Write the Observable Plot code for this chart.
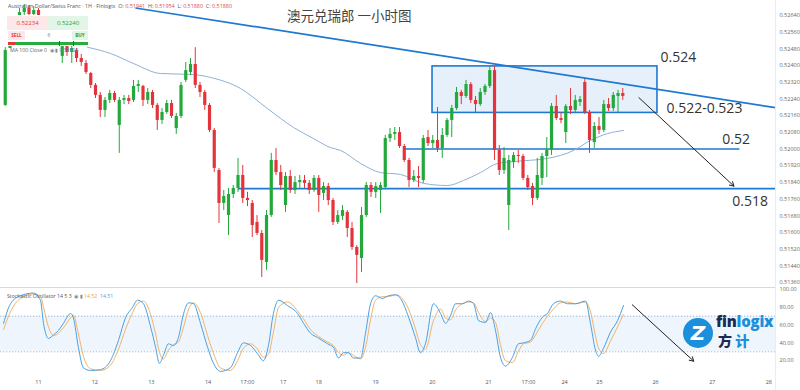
<!DOCTYPE html>
<html><head><meta charset="utf-8">
<script src="https://cdn.jsdelivr.net/npm/d3@7"></script>
<script src="https://cdn.jsdelivr.net/npm/@observablehq/plot@0.6"></script>
<style>
html,body{margin:0;padding:0;background:#fff;}
#wrap{position:relative;width:800px;height:390px;overflow:hidden;font-family:"Open Sans","Noto Sans",sans-serif;}
#wrap svg{display:block;overflow:visible;}
.ov{position:absolute;white-space:nowrap;line-height:1;}
</style></head>
<body><div id="wrap"></div>
<script>
// ---------- price bars (2-hour bars, hours from day 11 00:00) ----------
const barStartHour = -14, barStepHours = 2;
const opens = [.52209,.52482,.52568,.52616,.52654,.52674,.52645,.52664,.52626,.52597,.52616,.52549,.52444,.52491,.52463,.52472,.52434,.52410,.52362,.52305,
.52257,.52185,.52233,.52266,.52113,.52233,.52242,.52233,.52300,.52300,.52233,.52271,.52209,.52137,.52175,.52218,.52098,.52156,.52329,.52367,
.52405,.52305,.52271,.52209,.52089,.51897,.51739,.51681,.51782,.51811,.51873,.51763,.51739,.51648,.51595,.51456,.51681,.51945,.51887,.51729,
.51868,.51801,.51839,.51849,.51835,.51801,.51859,.51787,.51820,.51753,.51648,.51677,.51696,.51619,.51528,.51475,.51681,.51825,.51792,.51801,
.51815,.52050,.52070,.52079,.52012,.51945,.51849,.51868,.51849,.52055,.52026,.52041,.52002,.52065,.52137,.52194,.52271,.52252,.52309,.52233,
.52213,.52271,.52300,.52376,.51993,.51897,.51729,.51935,.51969,.51964,.51859,.51820,.51763,.51859,.51964,.51993,.52204,.52146,.52079,.52204,
.52185,.52223,.52319,.52175,.52031,.52108,.52089,.52213,.52194,.52252,.52266];
const highs = [.52486,.52578,.52640,.52674,.52693,.52688,.52683,.52674,.52640,.52635,.52626,.52568,.52511,.52501,.52520,.52482,.52453,.52424,.52367,.52314,
.52271,.52247,.52281,.52276,.52247,.52257,.52257,.52329,.52329,.52305,.52290,.52281,.52218,.52194,.52233,.52233,.52170,.52319,.52415,.52434,
.52486,.52319,.52281,.52218,.52098,.51907,.51801,.51811,.51825,.51955,.51921,.51792,.51753,.51681,.51609,.51705,.51979,.52002,.51921,.51887,
.51897,.51868,.51873,.51873,.51849,.51873,.51873,.51839,.51835,.51763,.51705,.51729,.51705,.51648,.51537,.51720,.51839,.51839,.51839,.51839,
.52065,.52098,.52103,.52103,.52022,.51955,.51897,.51916,.52065,.52089,.52065,.52199,.52098,.52146,.52209,.52295,.52281,.52329,.52319,.52252,
.52290,.52309,.52400,.52396,.52017,.52007,.51969,.51983,.51993,.51974,.51873,.51835,.51955,.51979,.52055,.52218,.52257,.52175,.52213,.52290,
.52257,.52252,.52338,.52185,.52127,.52151,.52233,.52242,.52271,.52281,.52290];
const lows = [.52204,.52482,.52559,.52597,.52635,.52626,.52616,.52607,.52578,.52568,.52549,.52491,.52410,.52444,.52410,.52415,.52396,.52357,.52290,.52242,
.52151,.52151,.52218,.52223,.51979,.52213,.52213,.52223,.52271,.52204,.52213,.52194,.52089,.52118,.52166,.52146,.52070,.52146,.52319,.52352,
.52290,.52247,.52185,.52079,.51887,.51643,.51705,.51585,.51763,.51792,.51739,.51724,.51576,.51585,.51384,.51418,.51672,.51873,.51801,.51696,
.51787,.51782,.51811,.51811,.51782,.51792,.51696,.51753,.51729,.51633,.51638,.51657,.51576,.51514,.51355,.51408,.51672,.51768,.51763,.51691,
.51811,.52031,.52041,.52002,.51935,.51815,.51839,.51815,.51835,.52012,.52002,.51983,.51955,.52055,.52055,.52185,.52213,.52242,.52218,.52175,
.52204,.52257,.52290,.51945,.51873,.51878,.51609,.51907,.51931,.51849,.51801,.51729,.51753,.51825,.51863,.51969,.52137,.52122,.52026,.52165,
.52175,.52204,.52165,.51979,.52002,.52070,.52079,.52180,.52180,.52175,.52233];
const closes = [.52472,.52568,.52616,.52654,.52674,.52645,.52664,.52626,.52597,.52616,.52568,.52501,.52491,.52463,.52482,.52434,.52415,.52367,.52305,.52257,
.52185,.52233,.52266,.52233,.52233,.52242,.52228,.52300,.52309,.52233,.52271,.52209,.52137,.52175,.52218,.52156,.52156,.52305,.52376,.52405,
.52305,.52271,.52209,.52089,.51907,.51739,.51772,.51782,.51811,.51873,.51763,.51753,.51633,.51595,.51466,.51681,.51945,.51887,.51825,.51868,
.51801,.51839,.51849,.51835,.51801,.51859,.51777,.51820,.51753,.51648,.51681,.51705,.51619,.51528,.51490,.51681,.51825,.51792,.51820,.51825,
.52050,.52070,.52079,.52012,.51945,.51849,.51868,.51859,.52050,.52026,.52041,.52002,.52065,.52137,.52194,.52271,.52252,.52309,.52233,.52213,
.52271,.52300,.52376,.51993,.51897,.51955,.51945,.51969,.51964,.51859,.51815,.51763,.51873,.51964,.51993,.52204,.52146,.52137,.52204,.52185,
.52233,.52237,.52175,.52041,.52108,.52089,.52213,.52194,.52257,.52266,.52252];

// ---------- MA 100 ----------
const maHours  = [20.6,30.3,40,51.4,65.3,72.4,85.1,96.4,107.4,115.8,122.9,127.2,135.6,144,152.4,162.1,172.2,178.9,186.1,193.3,200,214.3,225.3,232.4,239.6,246.3];
const maValues = [.52488,.52458,.52410,.52362,.52357,.52343,.52290,.52194,.52103,.52050,.52007,.51993,.51931,.51887,.51878,.51835,.51825,.51849,.51887,.51931,.51940,.51955,.51993,.52041,.52074,.52089];

// ---------- stochastic oscillator 14 5 3 ----------
const stochHours = [-14.7,-11.8,-7.6,-2.1,0.8,2.1,4.2,6.3,8.4,10.5,13.5,14.7,16.8,18.9,21.9,26.1,30.3,33.7,36.6,39.6,41.7,44.2,47.2,49.3,50.9,52.6,54.7,56.8,58.9,61.1,63.2,65.3,68.2,71.2,73.7,76.6,80.8,83.8,86.3,89.3,92.2,94.7,96.8,98.9,101.1,104.8,109.1,111.6,114.5,117.5,121.7,124.2,126.3,128.4,130.5,132.6,135.6,137.7,139.8,141.9,144.8,147.4,150.3,152.4,155.8,158.7,160.8,162.9,166.3,169.3,171.4,173.5,175.6,178.5,181.1,183.2,185.3,188.2,190.3,192.4,194.5,196.6,199.6,202.1,204.2,207.2,209.3,212.2,214.3,216.8,219.8,222.7,226.1,230.3,232.4,234.5,235.8,237.9,240.8,243.8,246.3];
const stochK = [62,84,93,96,88,62,45,49,54,62,73,68,35,12,9,10,20,43,68,80,88,84,58,35,17,26,39,37,46,73,85,84,62,35,17,8,12,29,40,37,28,20,37,73,88,82,73,62,51,46,39,35,23,29,29,23,23,51,84,93,90,93,94,90,69,46,29,39,84,73,62,71,84,84,87,84,65,63,74,54,24,14,24,39,40,43,56,69,73,84,87,84,84,87,62,32,25,34,52,65,82];
const stochD = [55,75,90,95,93,80,58,48,51,57,68,71,50,25,11,9,15,33,55,74,84,87,72,50,30,22,32,38,41,58,78,85,74,48,28,12,9,20,34,39,33,24,27,52,80,86,76,67,55,48,41,37,29,26,29,26,22,35,66,88,92,92,94,92,78,56,38,33,65,78,68,66,77,84,86,85,74,64,68,63,38,20,18,31,39,41,49,62,70,78,85,86,84,86,75,48,34,28,42,58,72];
const stochBand = [30, 70];
const stochTicks = [20, 40, 60, 80, 100];

// ---------- axes ----------
const priceTicks = [0.5136,0.5144,0.5152,0.5160,0.5168,0.5176,0.5184,0.5192,0.5200,0.5208,0.5216,0.5224,0.5232,0.5240,0.5248,0.5256,0.5264];
const timeTickHours  = [0,23.7,47.5,71.4,87.9,103,118,141.9,165.8,189.5,206.3,221.5,236.2,259.8,283.7,307.5];
const timeTickLabels = ["11","12","13","14","17:00","17","18","19","20","21","17:00","24","25","26","27","28"];

// ---------- annotations ----------
const trendLine = [{h1: 40.8, p1: 0.52676, h2: 310.3, p2: 0.52198}];
const zoneBox = [{h1: 165.9, h2: 260.6, p1: 0.52396, p2: 0.52173}];
const levelLines = [{price: 0.5200, from: 154.5, to: 295.3}, {price: 0.5181, from: 84.2, to: 310.3}];
const priceArrow = [{h1: 252.8, p1: 0.52246, h2: 292.8, p2: 0.51822}];
const stochArrow = [{h1: 250.0, v1: 82.8, h2: 275.9, v2: 19.4}];
const annoLabels = ["0.524", "0.522-0.523", "0.52", "0.518"];
const annoHours  = [261.9, 264.4, 287.9, 292.1];
const annoPrices = [0.52440, 0.52196, 0.52044, 0.51748];

const xDomain = [-16, 310.3];
const yDomain = [0.51336, 0.52712];
const GREEN = "#22a83b", RED = "#e3343b", BLUE = "#1f78d1";

const bars = opens.map((o, i) => ({t: barStartHour + i * barStepHours, o, h: highs[i], l: lows[i], c: closes[i]}));
const barColor = d => d.c >= d.o ? GREEN : RED;

const main = Plot.plot({
  width: 800, height: 287, marginLeft: 0, marginRight: 25, marginTop: 0, marginBottom: 0,
  x: {type: "linear", domain: xDomain, axis: null},
  y: {type: "linear", domain: yDomain, axis: null},
  color: {type: "identity"},
  style: {fontFamily: "'Open Sans', sans-serif", background: "transparent"},
  marks: [
    Plot.rect(zoneBox, {x1: "h1", x2: "h2", y1: "p1", y2: "p2", fill: "#e5f0fb", stroke: BLUE, strokeWidth: 1.6}),
    Plot.ruleY(levelLines, {y: "price", x1: "from", x2: "to", stroke: BLUE, strokeWidth: 1.6}),
    Plot.line(maValues, {x: (d, i) => maHours[i], y: d => d, stroke: "#8db1d7", strokeWidth: 1, curve: "monotone-x"}),
    Plot.ruleX(bars, {x: "t", y1: "l", y2: "h", stroke: barColor, strokeWidth: 1}),
    Plot.ruleX(bars, {x: "t", y1: "o", y2: "c", stroke: barColor, strokeWidth: 3.2}),
    Plot.link(trendLine, {x1: "h1", y1: "p1", x2: "h2", y2: "p2", stroke: BLUE, strokeWidth: 1.7}),
    Plot.arrow(priceArrow, {x1: "h1", y1: "p1", x2: "h2", y2: "p2", stroke: "#222", strokeWidth: 1, headLength: 7}),
    Plot.text(annoLabels, {x: (d, i) => annoHours[i], y: (d, i) => annoPrices[i], text: d => d, textAnchor: "start", fontSize: 14, fill: "#333"}),
    Plot.text(priceTicks, {y: d => d, text: d => d.toFixed(5), frameAnchor: "right", dx: 4, textAnchor: "start", fontSize: 5.5, fill: "#666"})
  ]
});

const stoch = Plot.plot({
  width: 800, height: 103, marginLeft: 0, marginRight: 25, marginTop: 2, marginBottom: 12,
  x: {type: "linear", domain: xDomain, axis: null},
  y: {type: "linear", domain: [0, 100], axis: null},
  style: {fontFamily: "'Open Sans', sans-serif", background: "transparent"},
  marks: [
    Plot.rect([stochBand], {x1: () => xDomain[0], x2: () => xDomain[1], y1: d => d[0], y2: d => d[1], fill: "#eef5fd"}),
    Plot.ruleY(stochBand, {y: d => d, stroke: "#8fa9c4", strokeDasharray: "1.2,1.8", strokeWidth: 0.8}),
    Plot.line(stochD, {x: (d, i) => stochHours[i], y: d => d, stroke: "#f2b36c", strokeWidth: 1, curve: "monotone-x"}),
    Plot.line(stochK, {x: (d, i) => stochHours[i], y: d => d, stroke: "#4aa0e2", strokeWidth: 1, curve: "monotone-x"}),
    Plot.arrow(stochArrow, {x1: "h1", y1: "v1", x2: "h2", y2: "v2", stroke: "#222", strokeWidth: 1, headLength: 7}),
    Plot.text(stochTicks, {y: d => d, text: d => d.toFixed(2), frameAnchor: "right", dx: 4, textAnchor: "start", fontSize: 5.5, fill: "#666"}),
    Plot.text(timeTickHours, {x: d => d, text: (d, i) => timeTickLabels[i], frameAnchor: "bottom", dy: 5, fontSize: 5.5, fill: "#555"})
  ]
});

const wrap = document.getElementById("wrap");
wrap.append(main, stoch);

function ov(html, css) {
  const d = document.createElement("div");
  d.className = "ov";
  d.style.cssText = css;
  d.innerHTML = html;
  wrap.append(d);
  return d;
}
// panel separators
ov("", "left:0;top:287px;width:775px;height:1px;background:#d9d9d9");
ov("", "left:775px;top:0;width:1px;height:390px;background:#ececec");
// header line
ov('Australian Dollar/Swiss Franc · 1H · Finlogix &nbsp;O: <span style="color:#e0474c">0.51941</span> &nbsp;H: <span style="color:#e0474c">0.51954</span> &nbsp;L: <span style="color:#e0474c">0.51880</span> &nbsp;C: <span style="color:#e0474c">0.51880</span>',
   "left:8px;top:4px;font-size:5.4px;color:#555");
// sell / buy widget
ov("", "left:7px;top:15px;width:81px;height:31px;background:#fff");
ov("0.52234", "left:7px;top:16px;width:41px;height:14px;background:#fde8e9;color:#e0383e;font-size:6px;display:flex;align-items:center;justify-content:center");
ov("0.52240", "left:48px;top:16px;width:40px;height:14px;background:#e3f5e6;color:#25a33e;font-size:6px;display:flex;align-items:center;justify-content:center");
ov("SELL", "left:8px;top:31px;width:17px;height:9px;background:#fde8e9;color:#e0383e;font-size:4.6px;font-weight:bold;display:flex;align-items:center;justify-content:center");
ov("6", "left:46px;top:31px;width:6px;height:9px;color:#777;font-size:5px;display:flex;align-items:center;justify-content:center");
ov("BUY", "left:72px;top:31px;width:16px;height:9px;background:#e3f5e6;color:#25a33e;font-size:4.6px;font-weight:bold;display:flex;align-items:center;justify-content:center");
ov("", "left:8px;top:42px;width:80px;height:3px;background:#25ad3e");
ov("", "left:8px;top:42px;width:7px;height:3px;background:#e0383e");
ov("", "left:59px;top:41px;width:1px;height:5px;background:#555");
ov("", "left:73px;top:41px;width:1px;height:5px;background:#555");
// MA legend
ov('MA 100 Close 0 &nbsp;<span style="color:#888">◉ ▮</span> <span style="color:#4a8fd6">0.51926</span>', "left:10px;top:48px;font-size:5.2px;color:#666");
// title
ov("澳元兑瑞郎 一小时图", "left:287px;top:9px;font-size:13.5px;color:#444;font-family:'Noto Sans CJK SC',sans-serif");
// stochastic legend
ov('Stochastic Oscillator 14 5 3 &nbsp;<span style="color:#888">◉ ▮</span> <span style="color:#f0a050">14.52</span> &nbsp;<span style="color:#4aa0e2">14.51</span>', "left:7px;top:294px;font-size:5.2px;color:#555");
// logo
ov('<span style="font-weight:900;font-style:italic;font-size:20px;color:#fff;font-family:\'DejaVu Sans\',sans-serif">Z</span>', "left:683px;top:318px;width:30px;height:30px;border-radius:50%;background:#1b8fdc;display:flex;align-items:center;justify-content:center");
ov('<span style="color:#1a2a55">fin</span><span style="color:#1b8fdc">logix</span>', "left:716px;top:314px;font-size:15px;font-weight:800;font-family:'Open Sans',sans-serif;letter-spacing:-0.2px");
ov('<span style="color:#1a2a55">方</span> <span style="color:#1b8fdc">计</span>', "left:718px;top:333px;font-size:14px;font-weight:900;font-family:'Noto Sans CJK SC',sans-serif");
</script></body></html>
